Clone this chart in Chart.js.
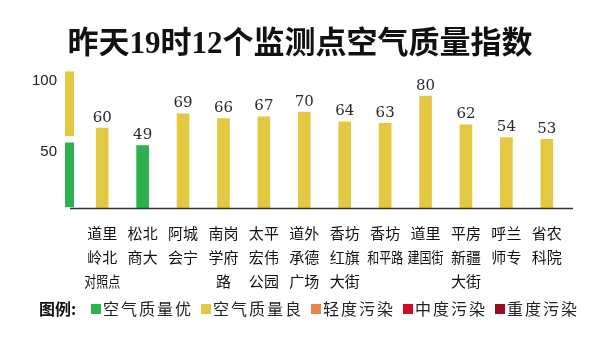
<!DOCTYPE html>
<html>
<head>
<meta charset="utf-8">
<script src="https://cdn.jsdelivr.net/npm/chart.js@4.4.1/dist/chart.umd.min.js"></script>
<style>
  html, body { margin: 0; padding: 0; background: #fff; }
  #wrap { width: 600px; height: 341px; position: relative; }
</style>
</head>
<body>
<div id="wrap"><canvas id="aqiChart"></canvas></div>
<script>
// 监测点名称（每行一段）
const stations = [
  ['道里', '岭北', '对照点'],
  ['松北', '商大'],
  ['阿城', '会宁'],
  ['南岗', '学府', '路'],
  ['太平', '宏伟', '公园'],
  ['道外', '承德', '广场'],
  ['香坊', '红旗', '大街'],
  ['香坊', '和平路'],
  ['道里', '建国街'],
  ['平房', '新疆', '大街'],
  ['呼兰', '师专'],
  ['省农', '科院']
];
const aqiValues = [60, 49, 69, 66, 67, 70, 64, 63, 80, 62, 54, 53];

// 左侧色标：[上沿, 下沿] 及刻度文字
const scaleLabels = ['100', '50'];
const scaleRanges = [[95.5, 55], [51, 10.5]];

const legendNames = ['空气质量优', '空气质量良', '轻度污染', '中度污染', '重度污染'];
const legendColors = ['#2bb24c', '#e3c942', '#ee8548', '#d00b26', '#9b0a1f'];

const GOOD_LIMIT = 50; // 50 及以下为"优"

const barColors = aqiValues.map(v => v <= GOOD_LIMIT ? legendColors[0] : legendColors[1]);

const cjk = '"Noto Sans CJK SC", sans-serif';

const decorPlugin = {
  id: 'decor',
  afterDatasetsDraw(chart) {
    const ctx = chart.ctx;
    const area = chart.chartArea;
    const y = chart.scales.y;
    const xs = chart.scales.x;
    ctx.save();

    // 横轴基线
    ctx.strokeStyle = '#333';
    ctx.lineWidth = 1.5;
    ctx.beginPath();
    ctx.moveTo(area.left - 12, area.bottom + 0.5);
    ctx.lineTo(area.right + 6, area.bottom + 0.5);
    ctx.stroke();

    // 色标
    scaleRanges.forEach((r, i) => {
      const top = y.getPixelForValue(r[0]);
      const bottom = y.getPixelForValue(r[1]);
      ctx.fillStyle = legendColors[1 - i];
      ctx.fillRect(area.left - 17, top, 9, bottom - top);
      ctx.fillStyle = '#222';
      ctx.font = '15px "Liberation Sans", Arial, sans-serif';
      ctx.textAlign = 'right';
      ctx.textBaseline = 'middle';
      ctx.fillText(scaleLabels[i], area.left - 25, top + 9);
    });

    // 柱顶数值
    const meta = chart.getDatasetMeta(0);
    ctx.fillStyle = '#2a2a2a';
    ctx.font = '15px "DejaVu Serif", serif';
    ctx.textAlign = 'center';
    ctx.textBaseline = 'bottom';
    meta.data.forEach((bar, i) => {
      ctx.fillText(String(aqiValues[i]), bar.x, bar.y - 3);
    });

    // 站点名称，三字一行时压窄
    ctx.fillStyle = '#111';
    ctx.font = '15px ' + cjk;
    ctx.textBaseline = 'middle';
    stations.forEach((lines, i) => {
      const cx = xs.getPixelForTick(i);
      lines.forEach((line, j) => {
        ctx.fillText(line, cx, area.bottom + 25 + j * 24, 36);
      });
    });

    // 图例
    const ly = 309;
    ctx.textAlign = 'left';
    ctx.fillStyle = '#111';
    ctx.font = 'bold 16px ' + cjk;
    ctx.fillText('图例:', 39, ly);
    let x = 91;
    ctx.font = '16px ' + cjk;
    ctx.letterSpacing = '2px';
    legendNames.forEach((name, i) => {
      ctx.fillStyle = legendColors[i];
      ctx.fillRect(x, ly - 5, 10, 10);
      ctx.fillStyle = '#222';
      ctx.fillText(name, x + 12, ly);
      x += 12 + ctx.measureText(name).width + 8;
    });
    ctx.restore();
  }
};

new Chart(document.getElementById('aqiChart'), {
  type: 'bar',
  data: {
    labels: stations,
    datasets: [{
      data: aqiValues,
      backgroundColor: barColors,
      barThickness: 12
    }]
  },
  options: {
    responsive: true,
    maintainAspectRatio: false,
    animation: false,
    layout: { padding: { top: 0, left: 0, right: 0, bottom: 133 } },
    plugins: {
      legend: { display: false },
      tooltip: { enabled: false },
      title: {
        display: true,
        text: '昨天19时12个监测点空气质量指数',
        color: '#111',
        font: { family: '"Liberation Serif", "Noto Sans CJK SC", serif', size: 31, weight: 'bold', lineHeight: 1.2 },
        padding: { top: 26, bottom: 1 }
      }
    },
    scales: {
      x: {
        offset: true,
        grid: { display: false, drawTicks: false },
        border: { display: false },
        ticks: { display: false }
      },
      y: {
        min: 10,
        max: 100,
        grid: { display: false, drawTicks: false },
        border: { display: false },
        ticks: { display: false },
        afterFit(scale) { scale.width = 82; }
      },
      yRight: {
        position: 'right',
        min: 10,
        max: 100,
        grid: { display: false, drawTicks: false },
        border: { display: false },
        ticks: { display: false },
        afterFit(scale) { scale.width = 33; }
      }
    }
  },
  plugins: [decorPlugin]
});
</script>
</body>
</html>
